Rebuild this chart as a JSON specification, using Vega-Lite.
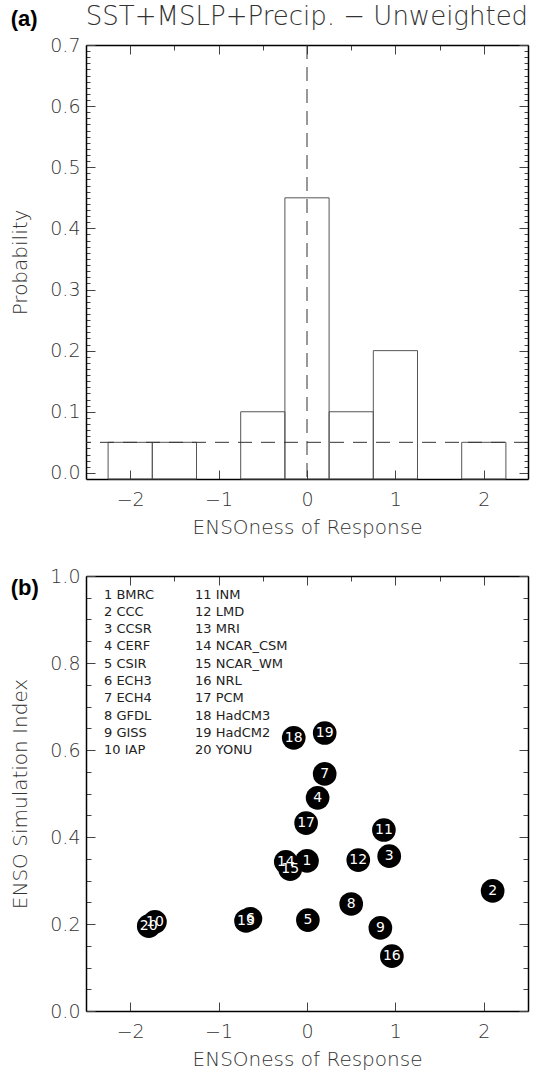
{
  "$schema": "https://vega.github.io/schema/vega-lite/v6.json",
  "padding": {"left": 10, "top": 4, "right": 4, "bottom": 4},
  "title": {"text": "(a)", "anchor": "start", "frame": "bounds", "font": "Liberation Sans", "fontSize": 22, "fontWeight": "bold", "color": "black", "offset": -27},
  "spacing": 30,
  "resolve": {"legend": {"color": "independent"}, "scale": {"color": "independent"}},
  "config": {
    "view": {"stroke": null},
    "font": "DejaVu Sans",
    "axis": {
      "grid": false,
      "domainColor": "black",
      "domainWidth": 1.5,
      "tickColor": "#444",
      "tickWidth": 1,
      "labelFont": "DejaVu Sans",
      "labelFontSize": 19,
      "labelFontWeight": 200,
      "labelColor": "#333",
      "titleFont": "DejaVu Sans",
      "titleFontSize": 20,
      "titleFontWeight": 200,
      "titleColor": "#333",
      "labelOverlap": false,
      "labelFlush": false
    }
  },
  "datasets": {
    "hist": [
      {"bin_start": -2.25, "bin_end": -1.75, "prob": 0.05},
      {"bin_start": -1.75, "bin_end": -1.25, "prob": 0.05},
      {"bin_start": -1.25, "bin_end": -0.75, "prob": 0.0},
      {"bin_start": -0.75, "bin_end": -0.25, "prob": 0.1},
      {"bin_start": -0.25, "bin_end": 0.25, "prob": 0.45},
      {"bin_start": 0.25, "bin_end": 0.75, "prob": 0.1},
      {"bin_start": 0.75, "bin_end": 1.25, "prob": 0.2},
      {"bin_start": 1.25, "bin_end": 1.75, "prob": 0.0},
      {"bin_start": 1.75, "bin_end": 2.25, "prob": 0.05}
    ],
    "models": [
      {"id": 1, "label": "\u20071 BMRC", "enso": 0.00, "index": 0.345},
      {"id": 2, "label": "\u20072 CCC", "enso": 2.10, "index": 0.276},
      {"id": 3, "label": "\u20073 CCSR", "enso": 0.93, "index": 0.356},
      {"id": 4, "label": "\u20074 CERF", "enso": 0.12, "index": 0.490},
      {"id": 5, "label": "\u20075 CSIR", "enso": 0.01, "index": 0.209},
      {"id": 6, "label": "\u20076 ECH3", "enso": -0.64, "index": 0.212},
      {"id": 7, "label": "\u20077 ECH4", "enso": 0.20, "index": 0.545},
      {"id": 8, "label": "\u20078 GFDL", "enso": 0.50, "index": 0.246},
      {"id": 9, "label": "\u20079 GISS", "enso": 0.83, "index": 0.191},
      {"id": 10, "label": "10 IAP", "enso": -1.72, "index": 0.205},
      {"id": 11, "label": "11 INM", "enso": 0.87, "index": 0.416},
      {"id": 12, "label": "12 LMD", "enso": 0.58, "index": 0.347},
      {"id": 13, "label": "13 MRI", "enso": -0.69, "index": 0.207},
      {"id": 14, "label": "14 NCAR_CSM", "enso": -0.24, "index": 0.343},
      {"id": 15, "label": "15 NCAR_WM", "enso": -0.19, "index": 0.326},
      {"id": 16, "label": "16 NRL", "enso": 0.96, "index": 0.126},
      {"id": 17, "label": "17 PCM", "enso": -0.01, "index": 0.432},
      {"id": 18, "label": "18 HadCM3", "enso": -0.15, "index": 0.628},
      {"id": 19, "label": "19 HadCM2", "enso": 0.20, "index": 0.639},
      {"id": 20, "label": "20 YONU", "enso": -1.79, "index": 0.195}
    ],
    "vref": [{"x": 0}],
    "href": [{"y": 0.05}]
  },
  "vconcat": [
    {
      "width": 442,
      "height": 434,
      "title": {"text": "SST+MSLP+Precip. − Unweighted", "anchor": "middle", "font": "DejaVu Sans", "fontSize": 26, "fontWeight": 200, "color": "#333", "offset": 6},
      "resolve": {"axis": {"x": "independent", "y": "independent"}},
      "layer": [
        {
          "data": {"name": "hist"},
          "transform": [{"filter": "datum.prob > 0"}],
          "mark": {"type": "rect", "filled": false, "color": "#555", "strokeWidth": 1},
          "encoding": {
            "x": {"field": "bin_start", "type": "quantitative", "scale": {"domain": [-2.5, 2.5], "nice": false, "zero": false},
              "axis": {"orient": "bottom", "values": [-2, -1.5, -1, -0.5, 0, 0.5, 1, 1.5, 2], "format": "d",
                "labelExpr": "abs(datum.value - round(datum.value)) < 0.001 ? datum.label : ''",
                "tickSize": {"condition": {"test": "abs(datum.value - round(datum.value)) < 0.001", "value": -9}, "value": -5},
                "labelPadding": 20, "title": "ENSOness of Response", "titlePadding": 8}},
            "x2": {"field": "bin_end"},
            "y": {"field": "prob", "type": "quantitative", "scale": {"domain": [-0.01, 0.7], "nice": false, "zero": false},
              "axis": {"orient": "left", "values": [0,0.01,0.02,0.03,0.04,0.05,0.06,0.07,0.08,0.09,0.1,0.11,0.12,0.13,0.14,0.15,0.16,0.17,0.18,0.19,0.2,0.21,0.22,0.23,0.24,0.25,0.26,0.27,0.28,0.29,0.3,0.31,0.32,0.33,0.34,0.35,0.36,0.37,0.38,0.39,0.4,0.41,0.42,0.43,0.44,0.45,0.46,0.47,0.48,0.49,0.5,0.51,0.52,0.53,0.54,0.55,0.56,0.57,0.58,0.59,0.6,0.61,0.62,0.63,0.64,0.65,0.66,0.67,0.68,0.69,0.7],
                "labelExpr": "abs(datum.value*10 - round(datum.value*10)) < 0.001 ? format(datum.value, '.1f') : ''",
                "tickSize": {"condition": {"test": "abs(datum.value*10 - round(datum.value*10)) < 0.001", "value": -9}, "value": -4},
                "labelPadding": 15, "title": "Probability", "titlePadding": 19}},
            "y2": {"datum": -0.01}
          }
        },
        {
          "data": {"name": "vref"},
          "mark": {"type": "rule", "color": "#333", "strokeWidth": 1, "strokeDash": [14, 8]},
          "encoding": {
            "x": {"field": "x", "type": "quantitative", "scale": {"domain": [-2.5, 2.5], "nice": false, "zero": false},
              "axis": {"orient": "top", "values": [-2, -1.5, -1, -0.5, 0, 0.5, 1, 1.5, 2], "labels": false, "title": null,
                "tickSize": {"condition": {"test": "abs(datum.value - round(datum.value)) < 0.001", "value": -9}, "value": -5}}}
          }
        },
        {
          "data": {"name": "href"},
          "mark": {"type": "rule", "color": "#333", "strokeWidth": 1, "strokeDash": [14, 9]},
          "encoding": {
            "y": {"field": "y", "type": "quantitative", "scale": {"domain": [-0.01, 0.7], "nice": false, "zero": false},
              "axis": {"orient": "right", "values": [0,0.01,0.02,0.03,0.04,0.05,0.06,0.07,0.08,0.09,0.1,0.11,0.12,0.13,0.14,0.15,0.16,0.17,0.18,0.19,0.2,0.21,0.22,0.23,0.24,0.25,0.26,0.27,0.28,0.29,0.3,0.31,0.32,0.33,0.34,0.35,0.36,0.37,0.38,0.39,0.4,0.41,0.42,0.43,0.44,0.45,0.46,0.47,0.48,0.49,0.5,0.51,0.52,0.53,0.54,0.55,0.56,0.57,0.58,0.59,0.6,0.61,0.62,0.63,0.64,0.65,0.66,0.67,0.68,0.69,0.7],
                "labels": false, "title": null,
                "tickSize": {"condition": {"test": "abs(datum.value*10 - round(datum.value*10)) < 0.001", "value": -9}, "value": -4}}}
          }
        }
      ]
    },
    {
      "width": 442,
      "height": 435,
      "title": {"text": "(b)", "anchor": "start", "frame": "bounds", "font": "Liberation Sans", "fontSize": 22, "fontWeight": "bold", "color": "black", "offset": -33},
      "resolve": {"axis": {"x": "independent", "y": "independent"}},
      "layer": [
        {
          "data": {"name": "models"},
          "mark": {"type": "circle", "size": 560, "opacity": 1},
          "encoding": {
            "x": {"field": "enso", "type": "quantitative", "scale": {"domain": [-2.5, 2.5], "nice": false, "zero": false},
              "axis": {"orient": "bottom", "values": [-2, -1.5, -1, -0.5, 0, 0.5, 1, 1.5, 2], "format": "d",
                "labelExpr": "abs(datum.value - round(datum.value)) < 0.001 ? datum.label : ''",
                "tickSize": {"condition": {"test": "abs(datum.value - round(datum.value)) < 0.001", "value": -9}, "value": -5},
                "labelPadding": 20, "title": "ENSOness of Response", "titlePadding": 8}},
            "y": {"field": "index", "type": "quantitative", "scale": {"domain": [0, 1], "nice": false, "zero": false},
              "axis": {"orient": "left", "values": [0,0.05,0.1,0.15,0.2,0.25,0.3,0.35,0.4,0.45,0.5,0.55,0.6,0.65,0.7,0.75,0.8,0.85,0.9,0.95,1],
                "labelExpr": "abs(datum.value*5 - round(datum.value*5)) < 0.001 ? format(datum.value, '.1f') : ''",
                "tickSize": {"condition": {"test": "abs(datum.value*5 - round(datum.value*5)) < 0.001", "value": -9}, "value": -5},
                "labelPadding": 15, "title": "ENSO Simulation Index", "titlePadding": 19}},
            "color": {"field": "label", "type": "nominal",
              "scale": {"domain": ["\u20071 BMRC", "\u20072 CCC", "\u20073 CCSR", "\u20074 CERF", "\u20075 CSIR", "\u20076 ECH3", "\u20077 ECH4", "\u20078 GFDL", "\u20079 GISS", "10 IAP", "11 INM", "12 LMD", "13 MRI", "14 NCAR_CSM", "15 NCAR_WM", "16 NRL", "17 PCM", "18 HadCM3", "19 HadCM2", "20 YONU"], "range": ["black"]},
              "legend": {"orient": "none", "legendX": 5, "legendY": 12, "columns": 2, "title": null, "symbolSize": 0, "symbolOpacity": 0, "symbolStrokeWidth": 0, "labelOffset": 0, "labelFont": "DejaVu Sans", "labelFontSize": 13, "labelColor": "#222", "rowPadding": 3.3, "columnPadding": 27, "padding": 0, "labelLimit": 300}}
          }
        },
        {
          "data": {"name": "models"},
          "mark": {"type": "text", "color": "white", "fontSize": 14, "font": "DejaVu Sans", "align": "center", "baseline": "middle"},
          "encoding": {
            "text": {"field": "id", "type": "nominal"},
            "x": {"field": "enso", "type": "quantitative", "scale": {"domain": [-2.5, 2.5], "nice": false, "zero": false},
              "axis": {"orient": "top", "values": [-2, -1.5, -1, -0.5, 0, 0.5, 1, 1.5, 2], "labels": false, "title": null,
                "tickSize": {"condition": {"test": "abs(datum.value - round(datum.value)) < 0.001", "value": -9}, "value": -5}}},
            "y": {"field": "index", "type": "quantitative", "scale": {"domain": [0, 1], "nice": false, "zero": false},
              "axis": {"orient": "right", "values": [0,0.05,0.1,0.15,0.2,0.25,0.3,0.35,0.4,0.45,0.5,0.55,0.6,0.65,0.7,0.75,0.8,0.85,0.9,0.95,1], "labels": false, "title": null,
                "tickSize": {"condition": {"test": "abs(datum.value*5 - round(datum.value*5)) < 0.001", "value": -9}, "value": -5}}}
          }
        }
      ]
    }
  ]
}
